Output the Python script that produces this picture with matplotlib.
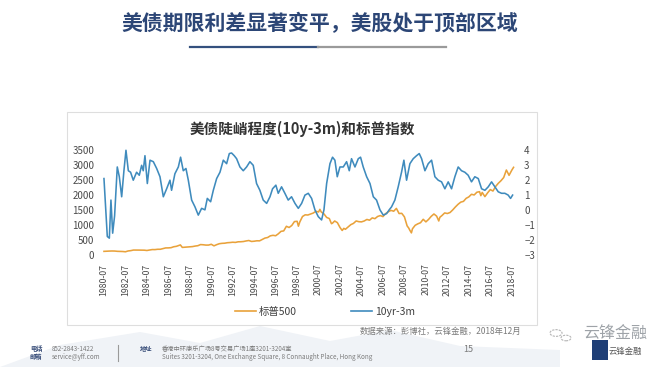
import numpy as np
import matplotlib.pyplot as plt
from matplotlib.patches import Rectangle, Polygon, Circle
from matplotlib.lines import Line2D

plt.rcParams['font.family'] = ['Noto Sans CJK SC', 'DejaVu Sans']

# 标普500 (左轴)
spx_year = [1980.5, 1980.75,
            1981.0, 1981.25, 1981.5, 1981.75,
            1982.0, 1982.25, 1982.5, 1982.75,
            1983.0, 1983.25, 1983.5, 1983.75,
            1984.0, 1984.25, 1984.5, 1984.75,
            1985.0, 1985.25, 1985.5, 1985.75,
            1986.0, 1986.25, 1986.5, 1986.75,
            1987.0, 1987.25, 1987.5, 1987.62, 1987.8,
            1988.0, 1988.25, 1988.5, 1988.75,
            1989.0, 1989.25, 1989.5, 1989.75,
            1990.0, 1990.25, 1990.5, 1990.75,
            1991.0, 1991.25, 1991.5, 1991.75,
            1992.0, 1992.25, 1992.5, 1992.75,
            1993.0, 1993.25, 1993.5, 1993.75,
            1994.0, 1994.25, 1994.5, 1994.75,
            1995.0, 1995.25, 1995.5, 1995.75,
            1996.0, 1996.25, 1996.5, 1996.75,
            1997.0, 1997.25, 1997.5, 1997.75,
            1998.0, 1998.25, 1998.5, 1998.62, 1998.75,
            1999.0, 1999.25, 1999.5, 1999.75,
            2000.0, 2000.25, 2000.5, 2000.62, 2000.75,
            2001.0, 2001.25, 2001.5, 2001.7, 2001.8,
            2002.0, 2002.25, 2002.5, 2002.7, 2002.85,
            2003.0, 2003.2, 2003.5, 2003.75,
            2004.0, 2004.25, 2004.5, 2004.75,
            2005.0, 2005.25, 2005.5, 2005.75,
            2006.0, 2006.25, 2006.5, 2006.75,
            2007.0, 2007.25, 2007.5, 2007.75,
            2008.0, 2008.25, 2008.5, 2008.75, 2008.9,
            2009.0, 2009.15, 2009.25, 2009.5, 2009.75,
            2010.0, 2010.25, 2010.5, 2010.75,
            2011.0, 2011.25, 2011.5, 2011.7, 2011.8,
            2012.0, 2012.25, 2012.5, 2012.75,
            2013.0, 2013.25, 2013.5, 2013.75,
            2014.0, 2014.25, 2014.5, 2014.75,
            2015.0, 2015.25, 2015.5, 2015.62, 2015.75,
            2016.0, 2016.25, 2016.5, 2016.75,
            2017.0, 2017.25, 2017.5, 2017.75,
            2018.0, 2018.25, 2018.5, 2018.67]
spx = [121, 127,
       130, 133, 131, 122,
       120, 116, 107, 134,
       145, 164, 162, 163,
       163, 160, 150, 166,
       180, 179, 190, 190,
       212, 235, 236, 243,
       274, 288, 318, 335, 252,
       257, 261, 272, 279,
       297, 309, 346, 340,
       329, 330, 356, 304,
       343, 375, 387, 392,
       408, 414, 424, 418,
       438, 440, 448, 467,
       481, 450, 458, 472,
       470, 514, 562, 581,
       636, 654, 640, 705,
       786, 801, 954, 914,
       980, 1111, 1120, 957, 1098,
       1279, 1335, 1329, 1362,
       1394, 1452, 1430, 1517, 1429,
       1366, 1249, 1211, 1040, 1059,
       1130, 1076, 912, 815, 885,
       855, 916, 1008, 1050,
       1131, 1107, 1101, 1130,
       1181, 1156, 1234, 1207,
       1280, 1310, 1276, 1377,
       1438, 1482, 1455, 1549,
       1378, 1385, 1267, 968, 896,
       825, 735, 872, 987, 1036,
       1073, 1186, 1101, 1183,
       1286, 1363, 1292, 1131, 1253,
       1312, 1398, 1379, 1412,
       1498, 1597, 1686, 1757,
       1782, 1883, 1931, 2018,
       1995, 2086, 2104, 1972, 2079,
       1940, 2065, 2174, 2126,
       2279, 2384, 2470, 2575,
       2824, 2648, 2816, 2914]

# 10yr-3m 利差 (右轴)
spread_year = [1980.50, 1980.81, 1981.00, 1981.15, 1981.31, 1981.49, 1981.74, 1981.93,
               1982.15, 1982.36, 1982.55, 1982.77, 1982.98, 1983.23, 1983.54, 1983.79,
               1984.01, 1984.16, 1984.32, 1984.54, 1984.79, 1985.10, 1985.41, 1985.72,
               1986.03, 1986.34, 1986.65, 1986.80, 1987.11, 1987.43, 1987.64, 1987.89,
               1988.14, 1988.36, 1988.67, 1988.98, 1989.29, 1989.60, 1989.91, 1990.13,
               1990.44, 1990.69, 1991.00, 1991.31, 1991.62, 1991.93, 1992.18, 1992.39,
               1992.64, 1992.86, 1993.17, 1993.48, 1993.79, 1994.10, 1994.41, 1994.72,
               1995.03, 1995.34, 1995.66, 1995.97, 1996.21, 1996.52, 1996.74, 1997.05,
               1997.36, 1997.67, 1997.98, 1998.30, 1998.61, 1998.92, 1999.23, 1999.54,
               1999.85, 2000.16, 2000.47, 2000.78, 2001.00, 2001.25, 2001.56, 2001.80,
               2002.02, 2002.24, 2002.49, 2002.80, 2003.11, 2003.36, 2003.57, 2003.89,
               2004.20, 2004.41, 2004.66, 2004.98, 2005.29, 2005.60, 2005.90, 2006.22,
               2006.53, 2006.84, 2007.08, 2007.30, 2007.61, 2007.92, 2008.23, 2008.45,
               2008.70, 2009.01, 2009.32, 2009.63, 2009.88, 2010.10, 2010.41, 2010.72,
               2011.03, 2011.34, 2011.65, 2011.96, 2012.27, 2012.58, 2012.89, 2013.20,
               2013.51, 2013.82, 2014.13, 2014.44, 2014.75, 2015.06, 2015.38, 2015.69,
               2016.00, 2016.31, 2016.62, 2016.93, 2017.24, 2017.55, 2017.86, 2018.17,
               2018.39, 2018.58]
spread = [2.08, -1.77, -1.88, 0.65, -1.55, -0.40, 2.85, 2.20,
          0.87, 2.60, 3.96, 2.60, 2.50, 1.97, 2.50, 2.30,
          2.96, 2.60, 3.60, 1.75, 3.30, 3.20, 2.75, 2.20,
          0.87, 1.40, 1.97, 1.30, 2.40, 2.85, 3.50, 2.60,
          2.75, 1.97, 0.65, 0.20, -0.35, 0.10, 0.00, 0.76,
          0.54, 1.30, 2.08, 2.50, 3.30, 3.07, 3.74, 3.78,
          3.60, 3.40, 2.85, 2.60, 2.85, 3.20, 2.96, 1.75,
          1.30, 0.65, 0.43, 0.87, 1.40, 1.64, 1.10, 1.53,
          1.10, 0.65, 0.87, 0.43, 0.10, 0.43, 0.98, 1.10,
          0.76, 0.00, -0.45, -0.67, 0.00, 1.75, 3.07, 3.50,
          3.30, 2.20, 2.85, 2.85, 3.20, 2.60, 3.40, 2.85,
          3.40, 3.50, 2.85, 2.20, 1.75, 0.87, 0.65, 0.00,
          -0.35, -0.25, 0.00, 0.20, 0.65, 1.53, 2.50, 3.30,
          1.97, 3.07, 3.40, 3.60, 3.74, 3.40, 2.60, 3.07,
          3.30, 2.20, 1.97, 1.86, 1.40, 1.86, 1.40, 2.20,
          2.85, 2.60, 2.50, 2.30, 1.86, 2.20, 2.08, 1.40,
          1.30, 1.53, 1.86, 1.53, 1.20, 1.10, 1.10, 0.98,
          0.76, 0.98]

tick_years = list(range(1980, 2019, 2))
tick_labels = [f'{y}-07' for y in tick_years]

W, H = 656, 367
def fx(x):
    return x / W
def fy(y):
    return 1 - y / H

fig = plt.figure(figsize=(6.56, 3.67), dpi=100)

# 背景山
mount = Polygon([(fx(0), fy(367)), (fx(60), fy(345)), (fx(140), fy(332)), (fx(200), fy(343)),
                 (fx(260), fy(326)), (fx(330), fy(341)), (fx(390), fy(330)), (fx(460), fy(346)),
                 (fx(560), fy(350)), (fx(560), fy(367))],
                closed=True, transform=fig.transFigure, facecolor='#f0f3f7', edgecolor='none', zorder=-3)
fig.patches.append(mount)

# 图表面板
panel = Rectangle((fx(67), fy(325)), 470 / W, 213 / H, transform=fig.transFigure,
                  facecolor='white', edgecolor='#dedede', lw=0.8, zorder=-2)
fig.patches.append(panel)

# 标题
fig.text(fx(320), fy(23), '美债期限利差显著变平，美股处于顶部区域', ha='center', va='center',
         fontsize=15, fontweight='bold', color='#2c4676')
fig.lines.append(Line2D([fx(190), fx(318)], [fy(47), fy(47)], transform=fig.transFigure,
                        color='#34507e', lw=1.6))
fig.lines.append(Line2D([fx(318), fx(446)], [fy(47), fy(47)], transform=fig.transFigure,
                        color='#9a9a9a', lw=1.6))

fig.text(fx(302), fy(129), '美债陡峭程度(10y-3m)和标普指数', ha='center', va='center',
         fontsize=10.5, fontweight='bold', color='#333333')

ax = fig.add_axes([fx(100), fy(258), 420 / W, 113 / H])
ax2 = ax.twinx()
for a in (ax, ax2):
    a.patch.set_alpha(0)
    for s in a.spines.values():
        s.set_visible(False)

ax.plot(spx_year, spx, color='#e9a23b', lw=1.15, zorder=2)
ax2.plot(spread_year, spread, color='#3f8bbd', lw=1.15, zorder=3)

ax.set_xlim(1980.13, 2019.27)
ax.set_ylim(-100, 3656)
ax2.set_ylim(-3.2, 4.31)
ax.set_yticks(range(0, 3501, 500))
ax2.set_yticks(range(-3, 5))
ax.set_xticks([y + 0.5 for y in tick_years])
ax.set_xticklabels(tick_labels, rotation=90, fontsize=6.3, color='#4a4a4a')
ax.tick_params(axis='x', length=0, pad=4)
ax.tick_params(axis='y', length=0, pad=4, labelsize=7, labelcolor='#4a4a4a')
ax2.tick_params(axis='y', length=0, pad=3, labelsize=7, labelcolor='#4a4a4a')

# 图例
handles = [Line2D([], [], color='#e9a23b', lw=1.2), Line2D([], [], color='#3f8bbd', lw=1.2)]
fig.legend(handles, ['标普500', '10yr-3m'], loc='center', bbox_to_anchor=(fx(325), fy(312)),
           ncol=2, frameon=False, fontsize=7.5, handlelength=2.0, handletextpad=0.3,
           columnspacing=5.2, labelcolor='#404040')

fig.text(fx(521), fy(331), '数据来源：彭博社，云锋金融，2018年12月', ha='right', va='center',
         fontsize=6, color='#7a7a7a', style='italic')

# 页脚
fig.text(fx(30), fy(349), '电话', fontsize=4.5, color='#3a4f7a', va='center', fontweight='bold')
fig.text(fx(30), fy(357), '邮箱', fontsize=4.5, color='#3a4f7a', va='center', fontweight='bold')
fig.text(fx(52), fy(349), '852-2843-1422', fontsize=4.5, color='#7a7a7a', va='center')
fig.text(fx(52), fy(357), 'service@yff.com', fontsize=4.5, color='#7a7a7a', va='center')
fig.lines.append(Line2D([fx(118), fx(118)], [fy(345), fy(361)], transform=fig.transFigure,
                        color='#9a9a9a', lw=0.8))
fig.text(fx(140), fy(349), '地址', fontsize=4.5, color='#3a4f7a', va='center', fontweight='bold')
fig.text(fx(162), fy(349), '香港中环康乐广场8号交易广场1座3201-3204室', fontsize=4.5,
         color='#7a7a7a', va='center')
fig.text(fx(162), fy(357), 'Suites 3201-3204, One Exchange Square, 8 Connaught Place, Hong Kong',
         fontsize=4.5, color='#7a7a7a', va='center')
fig.text(fx(468), fy(350), '15', fontsize=6.5, color='#7a7a7a', ha='center', va='center')

# 右下角标识
fig.patches.append(Circle((fx(556), fy(333)), 6 / W, transform=fig.transFigure, fill=False,
                          edgecolor='#b5b5b5', lw=0.8, ls=(0, (2, 1))))
fig.patches.append(Circle((fx(566), fy(338)), 5 / W, transform=fig.transFigure, fill=False,
                          edgecolor='#b5b5b5', lw=0.8, ls=(0, (2, 1))))
fig.text(fx(615), fy(333), '云锋金融', fontsize=11.5, color='#9ea3a8', ha='center', va='center')
fig.patches.append(Rectangle((fx(592), fy(360)), 16 / W, 20 / H, transform=fig.transFigure,
                             facecolor='#1f3f77', edgecolor='none'))
fig.text(fx(625), fy(351), '云锋金融', fontsize=6, color='#555555', ha='center', va='center')

fig.savefig('out.png', dpi=100)
